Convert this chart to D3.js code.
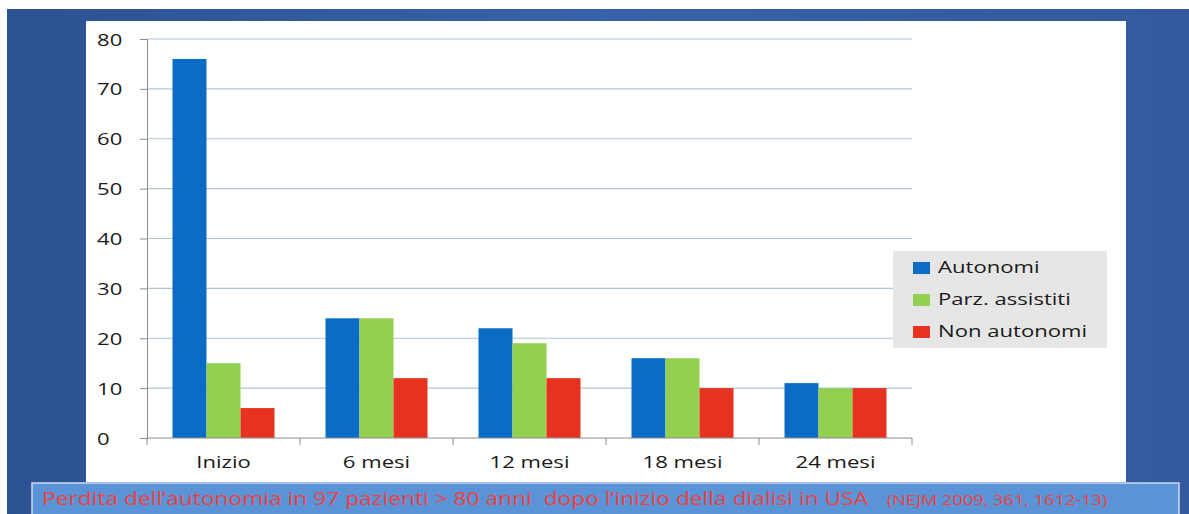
<!DOCTYPE html>
<html>
<head>
<meta charset="utf-8">
<script src="https://cdn.jsdelivr.net/npm/d3@7"></script>
<style>
  html, body { margin: 0; padding: 0; background: #ffffff; }
  svg { display: block; }
  text { white-space: pre; }
</style>
</head>
<body>
<svg id="chart" width="1189" height="514"></svg>
<script>
// Data: autonomy status of elderly dialysis patients over time
const categories = ["Inizio", "6 mesi", "12 mesi", "18 mesi", "24 mesi"];
const seriesNames = ["Autonomi", "Parz. assistiti", "Non autonomi"];
const autonomi = [76, 24, 22, 16, 11];
const parzAssistiti = [15, 24, 19, 16, 10];
const nonAutonomi = [6, 12, 12, 10, 10];
const yTicks = [0, 10, 20, 30, 40, 50, 60, 70, 80];
const captionMain = "Perdita dell\u2019autonomia in 97 pazienti > 80 anni  dopo l\u2019inizio della dialisi in USA";
const captionRef = "(NEJM 2009, 361, 1612-13)";

(function () {
  const seriesValues = [autonomi, parzAssistiti, nonAutonomi];
  const colors = ["#0a6cc4", "#92d050", "#e6321f"];

  const svg = d3.select("#chart");
  const font = "'Open Sans', 'DejaVu Sans', sans-serif";
  const wide = 1.3; // horizontal widening of the slide lettering

  // Move a text's x/y into a transform so it can be widened around its anchor
  function widen(sel, k) {
    sel.each(function () {
      const t = d3.select(this);
      const x = +t.attr("x") || 0, y = +t.attr("y") || 0;
      t.attr("x", 0).attr("y", 0).attr("transform", `translate(${x},${y}) scale(${k},1)`);
    });
  }

  // Slide background with gradient
  const defs = svg.append("defs");
  const grad = defs.append("linearGradient").attr("id", "bg").attr("x1", "0").attr("x2", "1").attr("y1", "0").attr("y2", "0");
  grad.append("stop").attr("offset", "0").attr("stop-color", "#2d5293");
  grad.append("stop").attr("offset", "0.5").attr("stop-color", "#3862a9");
  grad.append("stop").attr("offset", "1").attr("stop-color", "#34599e");
  svg.append("rect").attr("x", 7).attr("y", 9).attr("width", 1182).attr("height", 505).attr("fill", "url(#bg)");

  // White chart panel
  svg.append("rect").attr("x", 86).attr("y", 21).attr("width", 1040).attr("height", 461).attr("fill", "#ffffff");

  // Plot geometry
  const pL = 147, pR = 912, pT = 39, pB = 438;

  const y = d3.scaleLinear().domain([0, 80]).range([pB, pT]);
  const x0 = d3.scaleBand().domain(categories).range([pL, pR]).paddingInner(1 / 3).paddingOuter(1 / 6);
  const x1 = d3.scaleBand().domain(seriesNames).range([0, x0.bandwidth()]);

  // Grid lines
  svg.append("g")
    .selectAll("line")
    .data(yTicks.filter(t => t > 0))
    .join("line")
    .attr("x1", pL).attr("x2", pR)
    .attr("y1", d => y(d)).attr("y2", d => y(d))
    .attr("stroke", "#b0c4d8").attr("stroke-width", 1.2);

  // Bars
  const groups = svg.append("g")
    .selectAll("g")
    .data(categories)
    .join("g")
    .attr("transform", d => `translate(${x0(d)},0)`);

  groups.selectAll("rect")
    .data((c, i) => seriesNames.map((s, j) => ({ s, v: seriesValues[j][i], c: colors[j] })))
    .join("rect")
    .attr("x", d => x1(d.s))
    .attr("width", x1.bandwidth())
    .attr("y", d => y(d.v))
    .attr("height", d => y(0) - y(d.v))
    .attr("fill", d => d.c);

  // Y axis (labels start-aligned in a column left of the axis)
  const yAxis = d3.axisLeft(y).tickValues(yTicks).tickSize(7).tickPadding(14);
  const gy = svg.append("g").attr("transform", `translate(${pL},0)`).call(yAxis);
  gy.select(".domain").attr("stroke", "#8c8c8c");
  gy.selectAll(".tick line").attr("stroke", "#8c8c8c");
  gy.selectAll(".tick text")
    .attr("x", 97 - pL).attr("y", 6)
    .attr("dy", null)
    .attr("text-anchor", "start")
    .attr("font-family", font).attr("font-size", 17).attr("fill", "#1a1a1a")
    .call(widen, wide);

  // X axis with boundary ticks between categories
  const gx = svg.append("g").attr("transform", `translate(0,${pB})`);
  gx.append("line").attr("x1", pL).attr("x2", pR).attr("y1", 0).attr("y2", 0).attr("stroke", "#8c8c8c");
  const boundaries = d3.range(categories.length + 1).map(i => pL + i * (pR - pL) / categories.length);
  gx.selectAll("line.tk").data(boundaries).join("line").attr("class", "tk")
    .attr("x1", d => d).attr("x2", d => d).attr("y1", 0).attr("y2", 7).attr("stroke", "#8c8c8c");
  gx.selectAll("text").data(categories).join("text")
    .attr("x", d => x0(d) + x0.bandwidth() / 2)
    .attr("y", 30)
    .attr("text-anchor", "middle")
    .attr("font-family", font).attr("font-size", 17).attr("fill", "#1a1a1a")
    .text(d => d)
    .call(widen, wide);

  // Legend
  const lg = svg.append("g").attr("transform", "translate(893,251)");
  lg.append("rect").attr("width", 214).attr("height", 97).attr("fill", "#e6e6e6");
  seriesNames.forEach((s, i) => {
    const ly = 16 + i * 32;
    lg.append("rect").attr("x", 20).attr("y", ly - 5).attr("width", 17).attr("height", 12).attr("fill", colors[i]);
    lg.append("text").attr("x", 45).attr("y", ly + 6)
      .attr("font-family", font).attr("font-size", 17).attr("fill", "#1a1a1a").text(s)
      .call(widen, wide);
  });

  // Caption box
  svg.append("rect").attr("x", 32).attr("y", 483).attr("width", 1147).attr("height", 32)
    .attr("fill", "#5a94d6").attr("stroke", "#c9dcf2").attr("stroke-width", 1.5);
  svg.append("text").attr("x", 42).attr("y", 505)
    .attr("font-family", font).attr("font-size", 18).attr("fill", "#f0413f")
    .text(captionMain)
    .call(widen, 1.265);
  svg.append("text").attr("x", 887).attr("y", 505)
    .attr("font-family", font).attr("font-size", 14).attr("fill", "#f0413f")
    .text(captionRef)
    .call(widen, 1.3);
})();
</script>
</body>
</html>
